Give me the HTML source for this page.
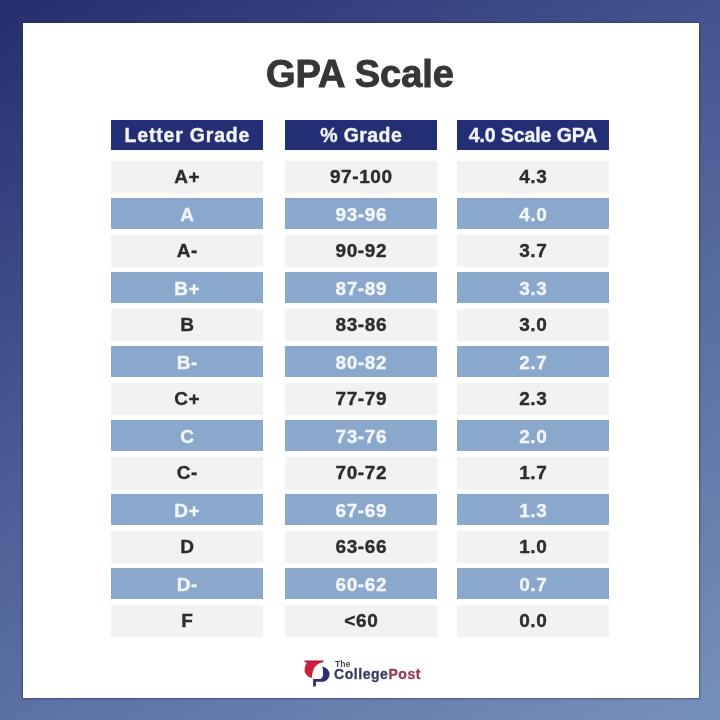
<!DOCTYPE html>
<html><head><meta charset="utf-8"><style>
html,body{margin:0;padding:0;}
body{width:720px;height:720px;position:relative;overflow:hidden;font-family:"Liberation Sans",sans-serif;
background:linear-gradient(152deg,#252e6e 0%,#4c5e96 45%,#7592bb 100%);}
.card{position:absolute;left:23px;top:23px;width:676px;height:675px;background:#fff;box-shadow:0 0 1.5px 1px rgba(40,45,75,0.5);}
.title{position:absolute;left:0;top:51.5px;width:720px;text-align:center;font-weight:bold;font-size:38px;color:#363636;line-height:44px;-webkit-text-stroke:0.9px #363636;}
.c{position:absolute;width:152px;text-align:center;font-weight:bold;font-size:19px;letter-spacing:0.6px;text-indent:0.6px;-webkit-text-stroke:0.35px currentColor;}
.h{background:#232f74;color:#f4f5fa;top:120px;height:30px;line-height:30px;font-size:19.5px;}
.g{background:#f2f2f2;color:#2c2c2c;height:32px;line-height:31px;}
.b{background:#89a8cc;color:#f2f6fb;height:31px;line-height:34px;}
.c1{left:111px}.c2{left:285px}.c3{left:457px}
.h.c1{letter-spacing:0.8px;text-indent:0.8px}
.h.c2{letter-spacing:0.4px;text-indent:0.4px}
.h.c3{letter-spacing:-0.1px;text-indent:-0.1px}
.logo{position:absolute;left:0;top:0;}
.the{position:absolute;left:335px;top:659px;font-size:8.6px;font-weight:bold;color:#4a4a4a;line-height:10px;}
.cp{position:absolute;left:334px;top:666px;font-size:14px;letter-spacing:0.55px;font-weight:bold;color:#363c62;line-height:16px;-webkit-text-stroke:0.3px #363c62;}
.cp span{color:#963b55;-webkit-text-stroke:0.3px #963b55;}
</style></head><body><div id="wrap" style="position:absolute;left:0;top:0;width:720px;height:720px;filter:blur(0.45px)">
<div class="card"></div>
<div class="title">GPA Scale</div>
<div class="c h c1">Letter Grade</div>
<div class="c h c2">% Grade</div>
<div class="c h c3">4.0 Scale GPA</div>
<div class="c g c1" style="top:161px">A+</div>
<div class="c g c2" style="top:161px">97-100</div>
<div class="c g c3" style="top:161px">4.3</div>
<div class="c b c1" style="top:198px">A</div>
<div class="c b c2" style="top:198px">93-96</div>
<div class="c b c3" style="top:198px">4.0</div>
<div class="c g c1" style="top:235px">A-</div>
<div class="c g c2" style="top:235px">90-92</div>
<div class="c g c3" style="top:235px">3.7</div>
<div class="c b c1" style="top:272px">B+</div>
<div class="c b c2" style="top:272px">87-89</div>
<div class="c b c3" style="top:272px">3.3</div>
<div class="c g c1" style="top:309px">B</div>
<div class="c g c2" style="top:309px">83-86</div>
<div class="c g c3" style="top:309px">3.0</div>
<div class="c b c1" style="top:346px">B-</div>
<div class="c b c2" style="top:346px">80-82</div>
<div class="c b c3" style="top:346px">2.7</div>
<div class="c g c1" style="top:383px">C+</div>
<div class="c g c2" style="top:383px">77-79</div>
<div class="c g c3" style="top:383px">2.3</div>
<div class="c b c1" style="top:420px">C</div>
<div class="c b c2" style="top:420px">73-76</div>
<div class="c b c3" style="top:420px">2.0</div>
<div class="c g c1" style="top:457px">C-</div>
<div class="c g c2" style="top:457px">70-72</div>
<div class="c g c3" style="top:457px">1.7</div>
<div class="c b c1" style="top:494px">D+</div>
<div class="c b c2" style="top:494px">67-69</div>
<div class="c b c3" style="top:494px">1.3</div>
<div class="c g c1" style="top:531px">D</div>
<div class="c g c2" style="top:531px">63-66</div>
<div class="c g c3" style="top:531px">1.0</div>
<div class="c b c1" style="top:568px">D-</div>
<div class="c b c2" style="top:568px">60-62</div>
<div class="c b c3" style="top:568px">0.7</div>
<div class="c g c1" style="top:605px">F</div>
<div class="c g c2" style="top:605px">&lt;60</div>
<div class="c g c3" style="top:605px">0.0</div>
<svg class="logo" width="720" height="720" viewBox="0 0 720 720">
<path fill="#b01c36" d="M304 660.6 L324 660.6 L322.5 662.4 L305.5 662.4 Z"/>
<path fill="#c8213f" d="M307.2 662 L321.8 662 C318 664 315.2 666 313.9 668.5 C312.8 671 312.2 674 311.8 678 C308.5 677.2 305.8 675 304.8 672 C304.1 669 305 665 307.2 662 Z"/>
<path fill="#2a2f76" d="M322.3 666.4 C326.5 667.4 329.6 670.5 329.6 674 C329.6 678 326.5 681.8 321.5 681.8 L315.9 681.8 L315.9 686.6 L313.1 686.6 L313.1 679.1 L319.5 679.1 C321.6 679.1 323 677 323 674 C323 671 323 669 322.3 666.4 Z"/>
</svg>
<div class="the">The</div>
<div class="cp">College<span>Post</span></div>
</div></body></html>
